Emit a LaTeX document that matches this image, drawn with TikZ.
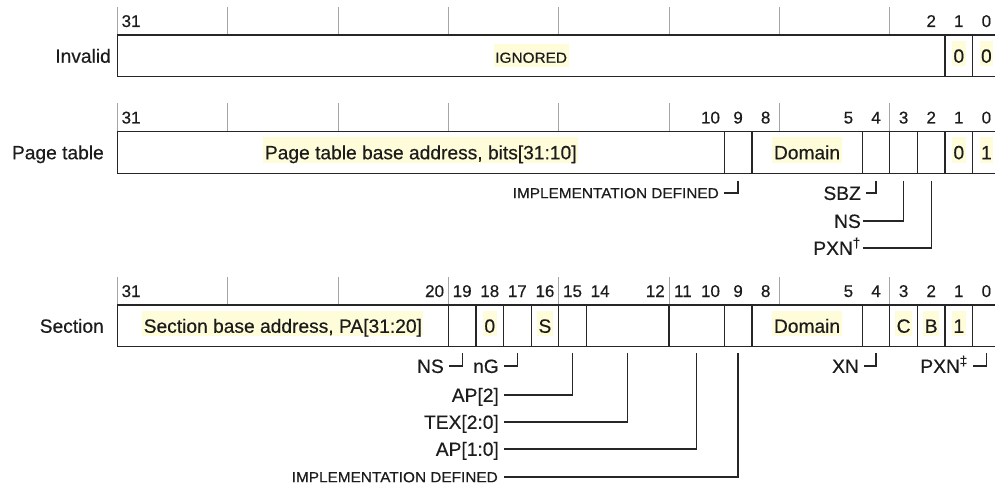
\documentclass[tikz,border=0pt]{standalone}
\usepackage{fontspec}
\setmainfont[FakeBold=0.45]{Liberation Sans}
\newfontfamily\capsfont[FakeStretch=1.06,FakeBold=0.45]{Liberation Sans}

\definecolor{hl}{RGB}{255,252,218}
\definecolor{boxline}{RGB}{38,38,38}
\definecolor{tickgray}{RGB}{165,165,165}
\definecolor{ink}{RGB}{28,28,28}

% register geometry: bit width, x of the left edge of bit 31, box height
\newcommand\bw{27.59}
\newcommand\xo{117.3}
\newcommand\boxh{41.7}

% \regfield[text style]{name}{box top}{high bit}{low bit}{text}
\newcommand\regfield[6][fieldtext]{%
  \pgfmathsetmacro\fcx{\xo+(31-#4)*\bw+(#4-#5+1)*\bw/2}%
  \pgfmathsetmacro\fwd{(#4-#5+1)*\bw}%
  \node[fieldbox, minimum width=\fwd pt] (#2) at ({\fcx},{#3+\boxh/2}) {};
  \if\relax\detokenize{#6}\relax\else
    \node[#1] (#2-t) at ({\fcx},{#3+\boxh/2+6.9}) {#6};
  \fi
}
% \bitno{name}{box top}{bit}
\newcommand\bitno[3]{%
  \node[bitnum] (#1) at ({\xo+(31-#3+0.5)*\bw},{#2-8}) {#3};
}
% tick marks every four bits above a register
\newcommand\regticks[1]{%
  \foreach \k in {0,4,...,28}
    \draw[tick] ({\xo+\k*\bw},{#1-28}) -- ({\xo+\k*\bw},{#1});
}

\begin{document}
\begin{tikzpicture}[x=1pt,y=-1pt,
  every node/.style={text=ink},
  fieldbox/.style={draw=boxline, line width=1.3pt, minimum height=\boxh pt,
    inner sep=0pt, outer sep=0pt},
  fieldtext/.style={fill=hl, anchor=base, inner xsep=1.5pt, inner ysep=0pt,
    text height=22pt, text depth=3.5pt, font=\fontsize{19.2}{22}\selectfont},
  capsfieldtext/.style={fieldtext, text height=19pt, text depth=4pt,
    font=\capsfont\fontsize{14.5}{17}\selectfont},
  bitnum/.style={anchor=base, inner sep=0pt, font=\fontsize{17}{20}\selectfont},
  tick/.style={draw=tickgray, line width=0.8pt},
  regname/.style={anchor=east, inner sep=0pt, text height=13.8pt, text depth=0pt,
    font=\fontsize{19.2}{22}\selectfont},
  flabel/.style={regname},
  capslabel/.style={anchor=east, inner sep=0pt, text height=10.4pt, text depth=0pt,
    font=\capsfont\fontsize{14.5}{17}\selectfont},
  conn/.style={draw=black!85, line width=1.2pt}
]
\useasboundingbox (0,0) rectangle (995,486);

% ---------------- Invalid ----------------
\def\rtop{35}
\regticks{\rtop}
\regfield[capsfieldtext]{inv-ign}{\rtop}{31}{2}{IGNORED}
\regfield{inv-b1}{\rtop}{1}{1}{0}
\regfield{inv-b0}{\rtop}{0}{0}{0}
\foreach \b in {31,2,1,0} {\bitno{inv-n\b}{\rtop}{\b}}
\node[regname] (inv-name) at (111,{\rtop+\boxh/2}) {Invalid};

% ---------------- Page table ----------------
\def\rtop{131.5}
\regticks{\rtop}
\regfield{pt-base}{\rtop}{31}{10}{Page table base address, bits[31:10]}
\regfield{pt-impl}{\rtop}{9}{9}{}
\regfield{pt-dom}{\rtop}{8}{5}{Domain}
\regfield{pt-sbz}{\rtop}{4}{4}{}
\regfield{pt-ns}{\rtop}{3}{3}{}
\regfield{pt-pxn}{\rtop}{2}{2}{}
\regfield{pt-b1}{\rtop}{1}{1}{0}
\regfield{pt-b0}{\rtop}{0}{0}{1}
\foreach \b in {31,10,9,8,5,4,3,2,1,0} {\bitno{pt-n\b}{\rtop}{\b}}
\node[regname] (pt-name) at (104,{\rtop+\boxh/2}) {Page table};

\node[capslabel] (pt-impl-l) at (719,193) {IMPLEMENTATION DEFINED};
\node[flabel] (pt-sbz-l) at (861,193) {SBZ};
\node[flabel] (pt-ns-l) at (861,221) {NS};
\node[flabel] (pt-pxn-l) at (861,248) {PXN\textsuperscript{†}};
\draw[conn] ([yshift=-7.5pt]pt-impl.south) |- ([xshift=5pt]pt-impl-l.east);
\draw[conn] ([yshift=-7.5pt]pt-sbz.south) |- ([xshift=5pt]pt-sbz-l.east);
\draw[conn] ([yshift=-7.5pt]pt-ns.south) |- ([xshift=2pt]pt-ns-l.east);
\draw[conn] ([yshift=-7.5pt]pt-pxn.south) |- ([xshift=2pt]pt-pxn-l.east);

% ---------------- Section ----------------
\def\rtop{305}
\regticks{\rtop}
\regfield{s-base}{\rtop}{31}{20}{Section base address, PA[31:20]}
\regfield{s-ns}{\rtop}{19}{19}{}
\regfield{s-b18}{\rtop}{18}{18}{0}
\regfield{s-ng}{\rtop}{17}{17}{}
\regfield{s-s}{\rtop}{16}{16}{S}
\regfield{s-ap2}{\rtop}{15}{15}{}
\regfield{s-tex}{\rtop}{14}{12}{}
\regfield{s-ap}{\rtop}{11}{10}{}
\regfield{s-impl}{\rtop}{9}{9}{}
\regfield{s-dom}{\rtop}{8}{5}{Domain}
\regfield{s-xn}{\rtop}{4}{4}{}
\regfield{s-c}{\rtop}{3}{3}{C}
\regfield{s-b}{\rtop}{2}{2}{B}
\regfield{s-b1}{\rtop}{1}{1}{1}
\regfield{s-pxn}{\rtop}{0}{0}{}
\foreach \b in {31,20,19,18,17,16,15,14,12,11,10,9,8,5,4,3,2,1,0} {\bitno{s-n\b}{\rtop}{\b}}
\node[regname] (s-name) at (104,{\rtop+\boxh/2}) {Section};

\node[flabel] (s-ns-l) at (444,366) {NS};
\node[flabel] (s-ng-l) at (499,366) {nG};
\node[flabel] (s-ap2-l) at (499,395) {AP[2]};
\node[flabel] (s-tex-l) at (499,422) {TEX[2:0]};
\node[flabel] (s-ap-l) at (499,449) {AP[1:0]};
\node[capslabel] (s-impl-l) at (498,477) {IMPLEMENTATION DEFINED};
\node[flabel] (s-xn-l) at (859,366) {XN};
\node[flabel] (s-pxn-l) at (968,366) {PXN\textsuperscript{‡}};
\draw[conn] ([yshift=-6.5pt]s-ns.south) |- ([xshift=5pt]s-ns-l.east);
\draw[conn] ([yshift=-6.5pt]s-ng.south) |- ([xshift=5pt]s-ng-l.east);
\draw[conn] ([yshift=-6.5pt]s-ap2.south) |- ([xshift=5pt]s-ap2-l.east);
\draw[conn] ([yshift=-6.5pt]s-tex.south) |- ([xshift=5pt]s-tex-l.east);
\draw[conn] ([yshift=-6.5pt]s-ap.south) |- ([xshift=5pt]s-ap-l.east);
\draw[conn] ([yshift=-6.5pt]s-impl.south) |- ([xshift=6pt]s-impl-l.east);
\draw[conn] ([yshift=-6.5pt]s-xn.south) |- ([xshift=5pt]s-xn-l.east);
\draw[conn] ([yshift=-6.5pt]s-pxn.south) |- ([xshift=5pt]s-pxn-l.east);
\end{tikzpicture}
\end{document}
